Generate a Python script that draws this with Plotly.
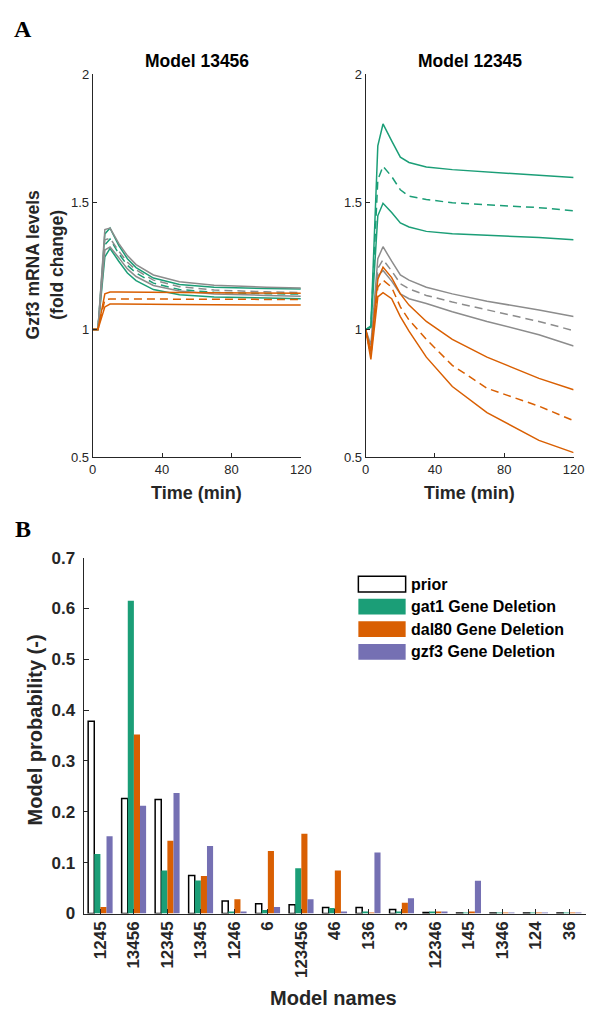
import plotly.graph_objects as go

W, H = 597, 1019

# ---------------- Data: panel A (time courses) ----------------
time_min = [0, 3, 7, 10, 15, 20, 25, 35, 50, 70, 100, 120]

# Model 13456 (left)
gray_up_L = [1.0, 1.0, 1.392, 1.398, 1.338, 1.29, 1.255, 1.214, 1.188, 1.174, 1.166, 1.163]
gray_mid_L = [1.0, 1.0, 1.352, 1.358, 1.308, 1.264, 1.234, 1.194, 1.168, 1.155, 1.148, 1.145]
gray_lo_L = [1.0, 1.0, 1.312, 1.324, 1.282, 1.238, 1.208, 1.173, 1.151, 1.14, 1.134, 1.131]
green_up_L = [1.0, 1.0, 1.375, 1.398, 1.33, 1.278, 1.243, 1.202, 1.177, 1.166, 1.161, 1.159]
green_mid_L = [1.0, 1.0, 1.332, 1.355, 1.298, 1.252, 1.222, 1.182, 1.157, 1.146, 1.141, 1.139]
green_lo_L = [1.0, 1.0, 1.285, 1.318, 1.268, 1.222, 1.192, 1.157, 1.137, 1.128, 1.124, 1.121]
orange_up_L = [1.0, 1.0, 1.14, 1.147, 1.147, 1.147, 1.146, 1.146, 1.145, 1.144, 1.143, 1.143]
orange_mid_L = [1.0, 1.0, 1.117, 1.12, 1.12, 1.12, 1.12, 1.119, 1.119, 1.118, 1.118, 1.118]
orange_lo_L = [1.0, 1.0, 1.089, 1.10, 1.10, 1.10, 1.099, 1.099, 1.098, 1.097, 1.096, 1.096]

# Model 12345 (right)
gray_up_R = [1.0, 0.94, 1.278, 1.325, 1.268, 1.214, 1.194, 1.166, 1.14, 1.111, 1.077, 1.051]
gray_mid_R = [1.0, 0.92, 1.24, 1.274, 1.23, 1.18, 1.16, 1.134, 1.108, 1.077, 1.032, 0.996]
gray_lo_R = [1.0, 0.90, 1.21, 1.232, 1.19, 1.14, 1.121, 1.102, 1.07, 1.032, 0.98, 0.936]
green_up_R = [1.0, 1.015, 1.72, 1.806, 1.74, 1.676, 1.655, 1.637, 1.627, 1.618, 1.606, 1.596]
green_mid_R = [1.0, 1.012, 1.587, 1.64, 1.60, 1.548, 1.523, 1.51, 1.497, 1.49, 1.478, 1.466]
green_lo_R = [1.0, 1.008, 1.446, 1.495, 1.459, 1.418, 1.402, 1.385, 1.376, 1.37, 1.361, 1.352]
orange_up_R = [1.0, 0.915, 1.198, 1.245, 1.204, 1.14, 1.096, 1.032, 0.962, 0.892, 0.809, 0.764]
orange_mid_R = [1.0, 0.90, 1.166, 1.194, 1.166, 1.089, 1.038, 0.962, 0.86, 0.77, 0.70, 0.643]
orange_lo_R = [1.0, 0.883, 1.128, 1.145, 1.121, 1.051, 0.994, 0.892, 0.777, 0.675, 0.566, 0.518]

panel_titles = ["Model 13456", "Model 12345"]
time_ticks = [0, 40, 80, 120]
level_ticks = [0.5, 1, 1.5, 2]
level_ticktext = ["0.5", "1", "1.5", "2"]

# ---------------- Data: panel B (model probabilities) ----------------
models = ["1245", "13456", "12345", "1345", "1246", "6", "123456", "46",
          "136", "3", "12346", "145", "1346", "124", "36"]
prior = [0.378, 0.226, 0.224, 0.075, 0.0245, 0.019, 0.017, 0.012, 0.0116,
         0.008, 0.002, 0.001, 0.001, 0.001, 0.001]
gat1 = [0.117, 0.615, 0.0845, 0.065, 0.003, 0.007, 0.089, 0.011, 0.002,
        0.003, 0.003, 0.001, 0.001, 0.001, 0.001]
dal80 = [0.013, 0.352, 0.143, 0.074, 0.028, 0.123, 0.157, 0.0845, 0.001,
         0.021, 0.003, 0.004, 0.001, 0.001, 0.001]
gzf3 = [0.152, 0.212, 0.237, 0.133, 0.003, 0.013, 0.028, 0.003, 0.12,
        0.030, 0.002, 0.0645, 0.001, 0.001, 0.001]
series_names = ["prior", "gat1 Gene Deletion", "dal80 Gene Deletion", "gzf3 Gene Deletion"]
prob_ticks = [0, 0.1, 0.2, 0.3, 0.4, 0.5, 0.6, 0.7]
prob_ticktext = ["0", "0.1", "0.2", "0.3", "0.4", "0.5", "0.6", "0.7"]

# ---------------- Styles ----------------
GREEN = "#1b9e77"
ORANGE = "#d95f02"
PURPLE = "#7570b3"
GRAY = "#8c8c8c"
AX = "#262626"
FONT = "Liberation Sans, Arial, sans-serif"
SERIF = "Liberation Serif, Times New Roman, serif"


def px_x(p):
    return p / W


def px_y(p):
    return 1 - p / H


fig = go.Figure()

panels = [
    ("x", "y", [green_up_L, green_mid_L, green_lo_L], [gray_up_L, gray_mid_L, gray_lo_L],
     [orange_up_L, orange_mid_L, orange_lo_L], (GREEN, GRAY, ORANGE)),
    ("x2", "y2", [gray_up_R, gray_mid_R, gray_lo_R], [green_up_R, green_mid_R, green_lo_R],
     [orange_up_R, orange_mid_R, orange_lo_R], (GRAY, GREEN, ORANGE)),
]
for xa, ya, g1, g2, g3, colors in panels:
    for color, group in zip(colors, (g1, g2, g3)):
        for i, vals in enumerate(group):
            fig.add_trace(go.Scatter(
                x=time_min, y=vals, mode="lines", xaxis=xa, yaxis=ya,
                line=dict(color=color, width=1.5, dash="8px,5px" if i == 1 else "solid"),
                showlegend=False, hoverinfo="skip"))

bar_series = [(prior, "white", 1.5, "black"), (gat1, GREEN, 0, GREEN),
              (dal80, ORANGE, 0, ORANGE), (gzf3, PURPLE, 0, PURPLE)]
for name, (vals, fill, lw, lc) in zip(series_names, bar_series):
    fig.add_trace(go.Bar(
        x=models, y=vals, name=name, xaxis="x3", yaxis="y3",
        marker=dict(color=fill, line=dict(color=lc, width=lw)),
        showlegend=False))

top_dom_y = [px_y(456.7), px_y(66.7)]
common_top_x = dict(range=[0, 120], tickvals=time_ticks, ticks="inside", ticklen=4,
                    tickcolor=AX, showline=True, linecolor=AX, linewidth=1,
                    showgrid=False, zeroline=False,
                    tickfont=dict(family=FONT, size=13, color=AX))
common_top_y = dict(range=[0.5, 2], tickvals=level_ticks, ticktext=level_ticktext,
                    ticks="inside", ticklen=4, tickcolor=AX, showline=True,
                    linecolor=AX, linewidth=1, showgrid=False, zeroline=False,
                    tickfont=dict(family=FONT, size=13, color=AX))

fig.update_layout(
    width=W, height=H,
    margin=dict(l=0, r=0, t=0, b=0),
    paper_bgcolor="white", plot_bgcolor="white",
    barmode="group", bargap=0.27, bargroupgap=0,
    xaxis=dict(domain=[px_x(91), px_x(304.5)], anchor="y", **common_top_x),
    yaxis=dict(domain=top_dom_y, anchor="x", **common_top_y),
    xaxis2=dict(domain=[px_x(371), px_x(584.3)], anchor="y2", **common_top_x),
    yaxis2=dict(domain=top_dom_y, anchor="x2", **common_top_y),
    xaxis3=dict(domain=[px_x(81.7), 1.0], anchor="y3", range=[-0.5, 14.5],
                type="category", ticks="inside", ticklen=5, tickcolor=AX,
                showline=True, linecolor=AX, linewidth=1, showgrid=False,
                tickangle=-90,
                tickfont=dict(family=FONT, size=17, color=AX, weight="bold")),
    yaxis3=dict(domain=[px_y(921.7), px_y(559)], anchor="x3", range=[0, 0.7],
                tickvals=prob_ticks, ticktext=prob_ticktext, ticks="inside",
                ticklen=5, tickcolor=AX, showline=True, linecolor=AX, linewidth=1,
                showgrid=False, zeroline=False, ticklabelstandoff=4,
                tickfont=dict(family=FONT, size=17, color=AX, weight="bold")),
)

ann = []


def add_text(text, x, y, size, color=AX, bold=True, angle=0, family=FONT,
             xanchor="center"):
    ann.append(dict(text=text, x=px_x(x), y=px_y(y), xref="paper", yref="paper",
                    showarrow=False, textangle=angle, xanchor=xanchor, yanchor="middle",
                    font=dict(family=family, size=size, color=color,
                              weight="bold" if bold else "normal")))


add_text("A", 20, 20, 24, color="black", family=SERIF)
add_text("B", 19, 530, 24, color="black", family=SERIF)
add_text(panel_titles[0], 197.7, 53, 17.5, color="black")
add_text(panel_titles[1], 477.7, 53, 17.5, color="black")
add_text("Time (min)", 197.7, 493, 18)
add_text("Time (min)", 477.7, 493, 18)
add_text("Gzf3 mRNA levels", 30, 261, 17.5, angle=-90)
add_text("(fold change)", 55, 261, 17.5, angle=-90)
add_text("Model probability (-)", 32, 735, 20, angle=-90)
add_text("Model names", 338, 1008, 20)

# Manual legend (boxes + labels)
legend_fills = [("white", "black"), (GREEN, GREEN), (ORANGE, ORANGE), (PURPLE, PURPLE)]
legend_rows = [586, 609, 632, 655]
shapes = []
for (fill, edge), yc, name in zip(legend_fills, legend_rows, series_names):
    shapes.append(dict(type="rect", xref="paper", yref="paper",
                       x0=px_x(363.5), x1=px_x(412), y0=px_y(yc + 8), y1=px_y(yc - 8),
                       fillcolor=fill, line=dict(color=edge, width=1.5 if fill == "white" else 0)))
    add_text(name, 415.5, yc, 16, color="black", xanchor="left")

fig.update_layout(annotations=ann, shapes=shapes)

fig.write_html(
    "out.html",
    config={"displayModeBar": False},
    post_script="document.documentElement.style.margin='0';"
                "document.body.style.margin='0';"
                "document.body.style.overflow='hidden';",
)
